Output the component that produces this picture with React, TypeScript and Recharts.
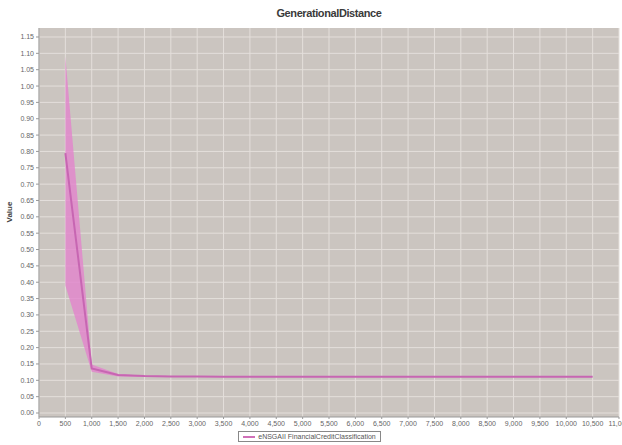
import React from 'react';
import { ComposedChart, Area, Line, XAxis, YAxis, CartesianGrid, Legend } from 'recharts';

const evaluations = [500, 1000, 1500, 2000, 2500, 3000, 3500, 4000, 4500, 5000, 5500, 6000, 6500, 7000, 7500, 8000, 8500, 9000, 9500, 10000, 10500];
const meanValues = [0.795, 0.136, 0.116, 0.113, 0.112, 0.112, 0.111, 0.111, 0.111, 0.111, 0.111, 0.111, 0.111, 0.111, 0.111, 0.111, 0.111, 0.111, 0.111, 0.111, 0.111];
const upperValues = [1.09, 0.148, 0.119, 0.114, 0.113, 0.113, 0.112, 0.112, 0.112, 0.112, 0.112, 0.112, 0.112, 0.112, 0.112, 0.112, 0.112, 0.112, 0.112, 0.112, 0.112];
const lowerValues = [0.39, 0.126, 0.112, 0.111, 0.110, 0.110, 0.110, 0.110, 0.110, 0.110, 0.110, 0.110, 0.110, 0.110, 0.110, 0.110, 0.110, 0.110, 0.110, 0.110, 0.110];

const xTicks = [0, 500, 1000, 1500, 2000, 2500, 3000, 3500, 4000, 4500, 5000, 5500, 6000, 6500, 7000, 7500, 8000, 8500, 9000, 9500, 10000, 10500, 11000];
const yTicks = [0, 0.05, 0.1, 0.15, 0.2, 0.25, 0.3, 0.35, 0.4, 0.45, 0.5, 0.55, 0.6, 0.65, 0.7, 0.75, 0.8, 0.85, 0.9, 0.95, 1.0, 1.05, 1.1, 1.15];

const seriesName = 'eNSGAII FinancialCreditClassification';

const data = evaluations.map((x, i) => ({
    x,
    mean: meanValues[i],
    band: [lowerValues[i], upperValues[i]],
}));

const tickStyle = { fontSize: 7, fill: '#666', fontFamily: 'Liberation Sans, Arial, sans-serif' };

function LegendBox() {
    return (
        <div style={{ display: 'flex', justifyContent: 'center', paddingTop: 2 }}>
            <div style={{
                display: 'flex', alignItems: 'center', border: '1px solid #888', padding: '1px 4px',
                fontSize: 7, color: '#555', fontFamily: 'Liberation Sans, Arial, sans-serif', background: '#fff',
            }}>
                <span style={{ display: 'inline-block', width: 12, height: 2, background: '#d070b8', marginRight: 3 }} />
                {seriesName}
            </div>
        </div>
    );
}

export default function App() {
    return (
        <div style={{ position: 'absolute', left: 0, top: 0, width: 622, height: 445, background: '#fff' }}>
            <ComposedChart width={622} height={445} data={data} margin={{ top: 28, right: 3, bottom: 0, left: 0 }}>
                <text x={329} y={17} textAnchor="middle" style={{ fontSize: 11, fontWeight: 'bold', fill: '#3a3a3a', fontFamily: 'Liberation Sans, Arial, sans-serif', letterSpacing: -0.4 }}>
                    GenerationalDistance
                </text>
                <CartesianGrid fill="#cbc5c0" stroke="#e4dfdb" strokeWidth={1} horizontalValues={yTicks} verticalValues={xTicks} />
                <XAxis
                    dataKey="x"
                    type="number"
                    domain={[0, 11000]}
                    ticks={xTicks}
                    interval={0}
                    tickFormatter={(v: number) => v.toLocaleString('en-US')}
                    tick={tickStyle}
                    tickSize={2}
                    tickMargin={2}
                    height={12}
                    stroke="#999"
                    allowDataOverflow
                />
                <YAxis
                    type="number"
                    domain={[-0.0122, 1.1775]}
                    ticks={yTicks}
                    interval={0}
                    tickFormatter={(v: number) => v.toFixed(2)}
                    tick={tickStyle}
                    tickSize={3}
                    tickMargin={2}
                    width={39}
                    stroke="#999"
                    allowDataOverflow
                    label={{ value: 'Value', angle: -90, position: 'insideLeft', offset: 9, style: { fontSize: 8, fontWeight: 'bold', fill: '#444', fontFamily: 'Liberation Sans, Arial, sans-serif' } }}
                />
                <Area dataKey="band" type="linear" stroke="none" fill="#e283cc" fillOpacity={0.8} isAnimationActive={false} legendType="none" />
                <Line dataKey="mean" type="linear" stroke="#c766b2" strokeWidth={2} dot={false} isAnimationActive={false} name={seriesName} />
                <Legend verticalAlign="bottom" height={16} content={() => <LegendBox />} />
            </ComposedChart>
        </div>
    );
}
